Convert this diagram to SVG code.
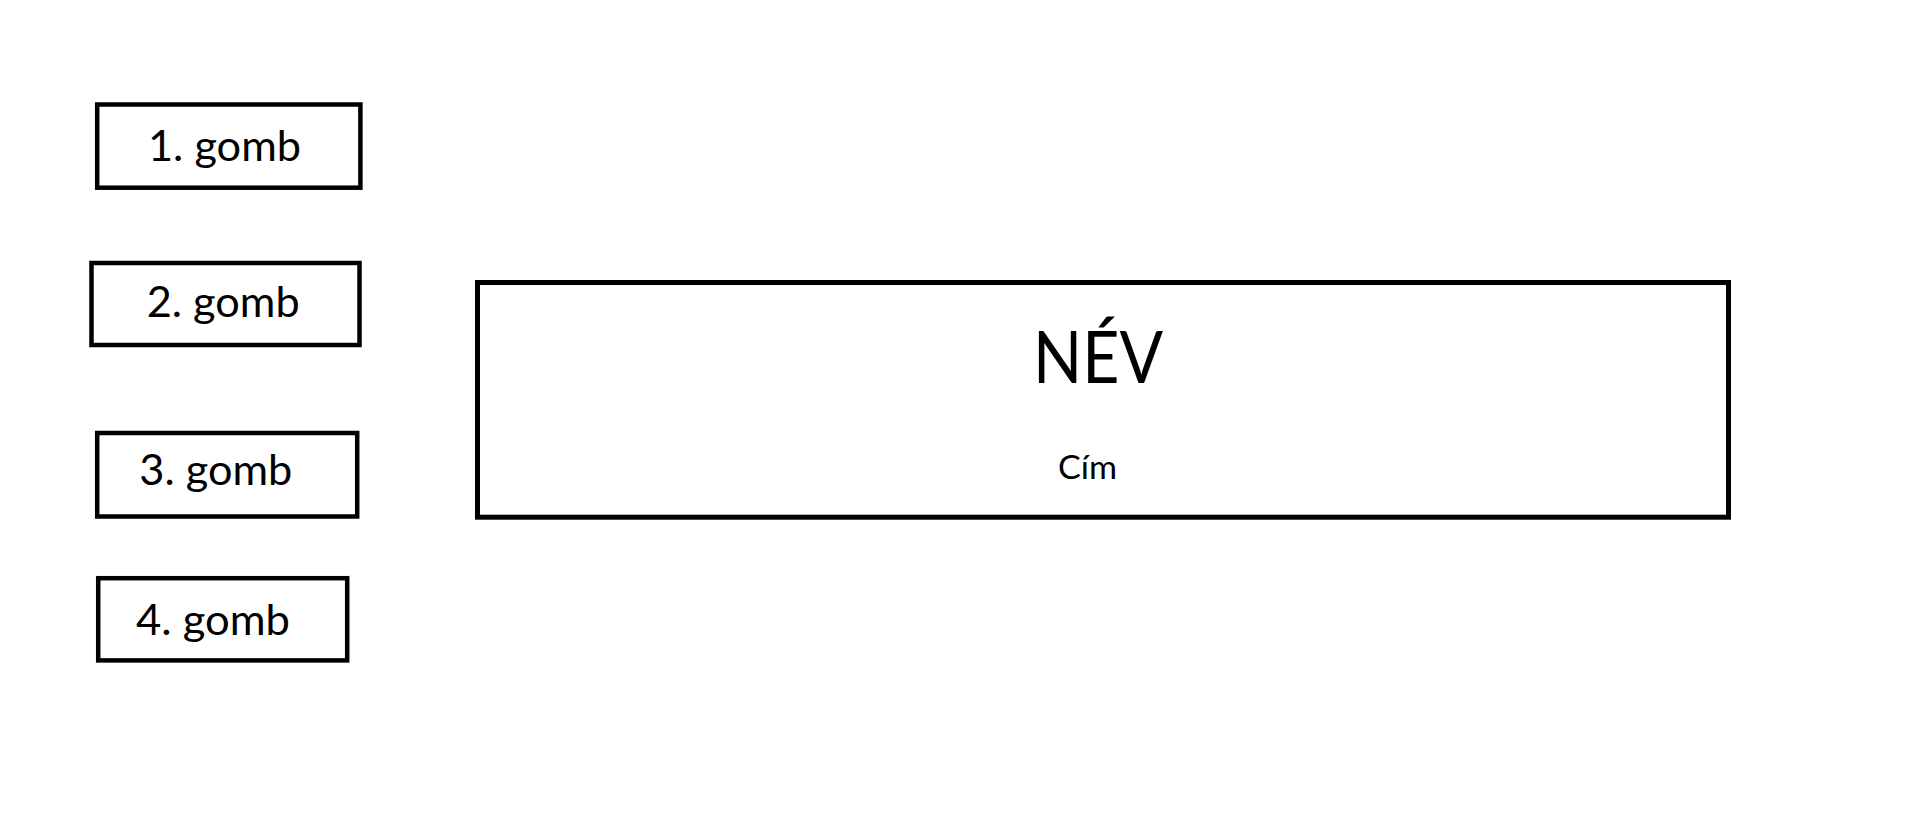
<svg xmlns="http://www.w3.org/2000/svg" width="1909" height="825" viewBox="0 0 1909 825">
<style>
.box{fill:#fff;stroke:#000;stroke-width:4.5}
.big{fill:#fff;stroke:#000;stroke-width:5}
.t{font-family:Lato,"Liberation Sans",sans-serif;fill:#000}
.btn{font-size:43px}
</style>
<rect width="1909" height="825" fill="#fff"/>
<g id="gomb1">
<rect class="box" x="97.2" y="104.5" width="263.2" height="83.2"/>
<text class="t btn" x="148" y="160.7" textLength="153" lengthAdjust="spacingAndGlyphs">1. gomb</text>
</g>
<g id="gomb2">
<rect class="box" x="91.5" y="263" width="268" height="82"/>
<text class="t btn" x="146.7" y="317" textLength="153" lengthAdjust="spacingAndGlyphs">2. gomb</text>
</g>
<g id="gomb3">
<rect class="box" x="97.2" y="433" width="260" height="83.5"/>
<text class="t btn" x="139.3" y="484.7" textLength="153" lengthAdjust="spacingAndGlyphs">3. gomb</text>
</g>
<g id="gomb4">
<rect class="box" x="98.2" y="578.2" width="249" height="82.2"/>
<text class="t btn" x="136" y="635.3" textLength="154" lengthAdjust="spacingAndGlyphs">4. gomb</text>
</g>
<g id="nev">
<rect class="big" x="477.5" y="282.5" width="1251" height="234.7"/>
<text class="t" x="1033" y="383.3" font-size="72" textLength="130" lengthAdjust="spacingAndGlyphs">NÉV</text>
<text class="t" x="1058" y="479" font-size="33" textLength="59" lengthAdjust="spacingAndGlyphs">Cím</text>
</g>
<g id="connectors"/>
</svg>
